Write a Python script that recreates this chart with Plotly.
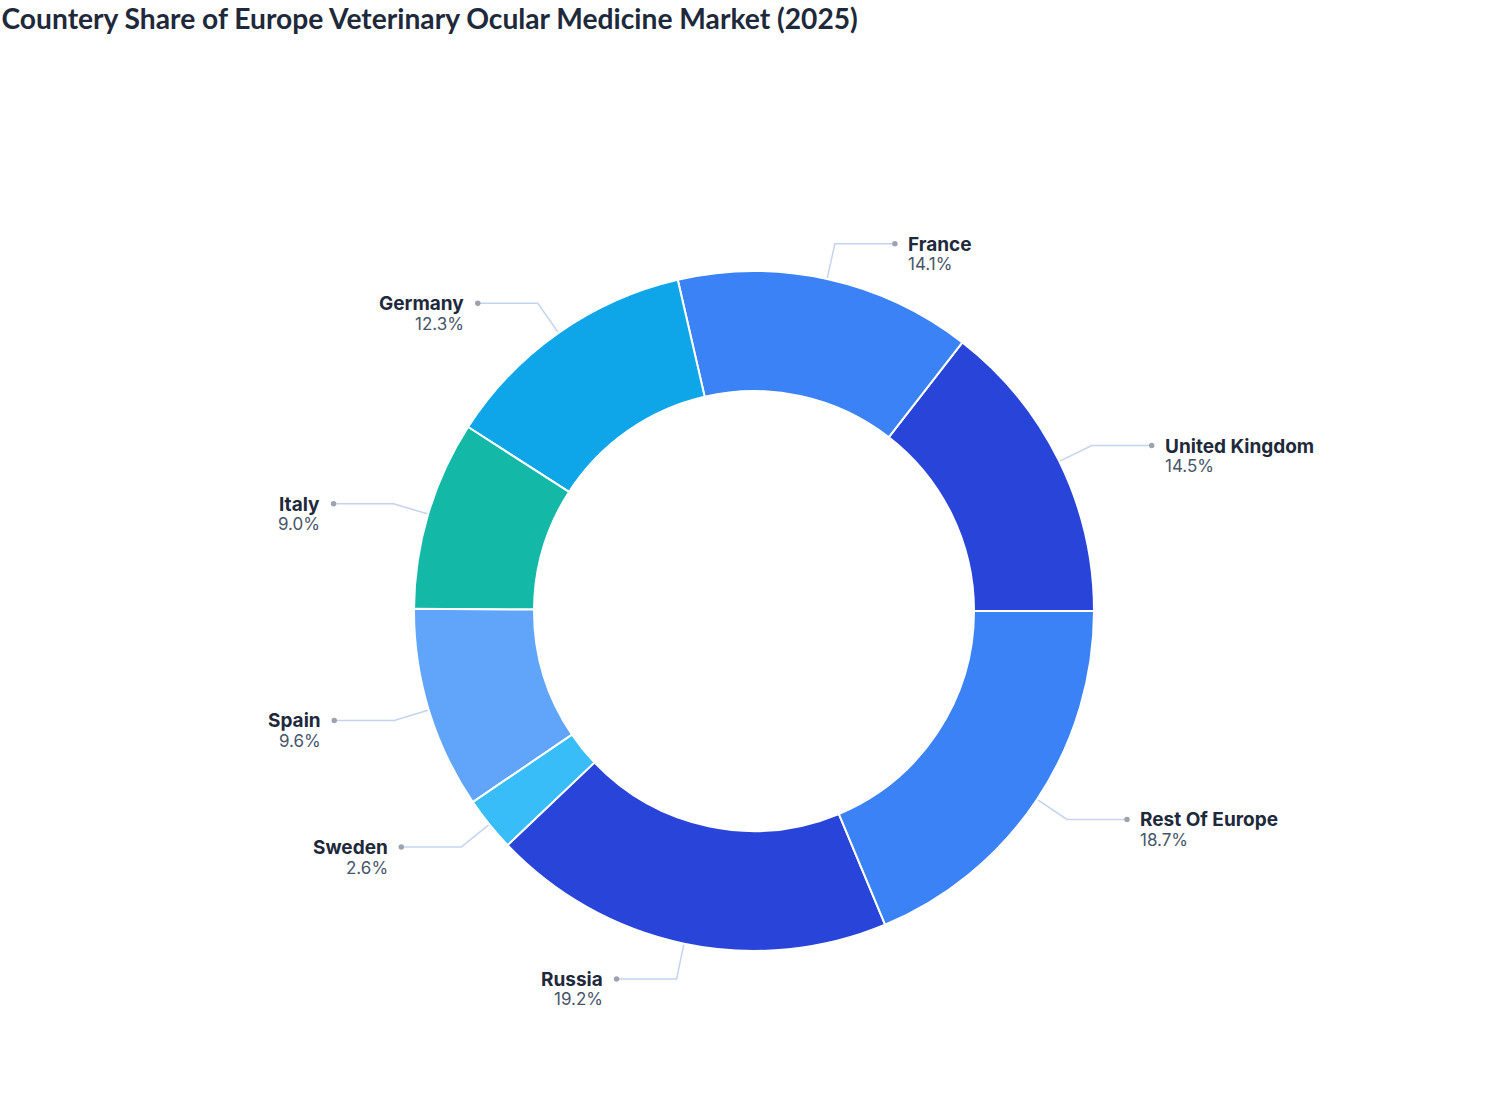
import math
import plotly.graph_objects as go

countries = ["United Kingdom", "France", "Germany", "Italy", "Spain", "Sweden", "Russia", "Rest Of Europe"]
shares = [14.5, 14.1, 12.3, 9.0, 9.6, 2.6, 19.2, 18.7]
colors = ["#2944D9", "#3B82F6", "#0EA5E9", "#14B8A6", "#60A5FA", "#38BDF8", "#2944D9", "#3B82F6"]

W, H = 1508, 1120
CX, CY, R = 754, 611, 340
HOLE = 220 / 340

total = sum(shares)
# plotly places the first slice clockwise of the rotation angle when counterclockwise,
# so shift by the first slice so that it starts at 3 o'clock going counterclockwise
rot = 90 - 360 * shares[0] / total

fig = go.Figure()
fig.add_trace(go.Pie(
    labels=countries, values=shares, sort=False, direction="counterclockwise",
    rotation=rot, hole=HOLE, textinfo="none", hoverinfo="label+percent",
    marker=dict(colors=colors, line=dict(color="#FFFFFF", width=2)),
    domain=dict(x=[0, 1], y=[(H - (CY + R)) / H, (H - (CY - R)) / H]),
    showlegend=False,
))

cum = 0.0
annotations = []
for name, v in zip(countries, shares):
    mid = (cum + v / 2) / total * 2 * math.pi
    cum += v
    c, s = math.cos(mid), math.sin(mid)
    x0, y0 = CX + R * c, CY - R * s
    x1, y1 = CX + R * 1.106 * c, CY - R * 1.106 * s
    side = 1 if c >= 0 else -1
    x2 = x1 + side * 60
    fig.add_trace(go.Scatter(x=[x0, x1, x2], y=[y0, y1, y1], mode="lines",
                             line=dict(color="#C5D3EE", width=1.5), hoverinfo="skip",
                             showlegend=False, xaxis="x", yaxis="y"))
    fig.add_trace(go.Scatter(x=[x2], y=[y1], mode="markers",
                             marker=dict(color="#9CA3AF", size=5.5), hoverinfo="skip",
                             showlegend=False, xaxis="x", yaxis="y"))
    tx = x2 + side * 11.5
    anchor = "left" if side > 0 else "right"
    annotations.append(dict(x=tx, y=y1 + 0.5, xref="x", yref="y", text="<b>%s</b>" % name,
                            showarrow=False, xanchor=anchor, yanchor="middle",
                            font=dict(family="Inter", size=19, color="#1E293B")))
    annotations.append(dict(x=tx, y=y1 + 20.5, xref="x", yref="y", text="%.1f%%" % (v / total * 100),
                            showarrow=False, xanchor=anchor, yanchor="middle",
                            font=dict(family="Inter", size=17, color="#475569")))

fig.update_layout(
    width=W, height=H,
    margin=dict(l=0, r=0, t=0, b=0),
    paper_bgcolor="white", plot_bgcolor="rgba(0,0,0,0)",
    xaxis=dict(range=[0, W], visible=False, fixedrange=True),
    yaxis=dict(range=[H, 0], visible=False, fixedrange=True),
    annotations=annotations,
    title=dict(text="<b>Countery Share of Europe Veterinary Ocular Medicine Market (2025)</b>",
               x=0.001, xref="container", xanchor="left", y=1 - 19 / H, yref="container",
               yanchor="middle", font=dict(family="Lato", size=28.2, color="#1E293B")),
)

fig.write_html("out.html", config={"displayModeBar": False},
               post_script="document.body.style.margin='0';")
